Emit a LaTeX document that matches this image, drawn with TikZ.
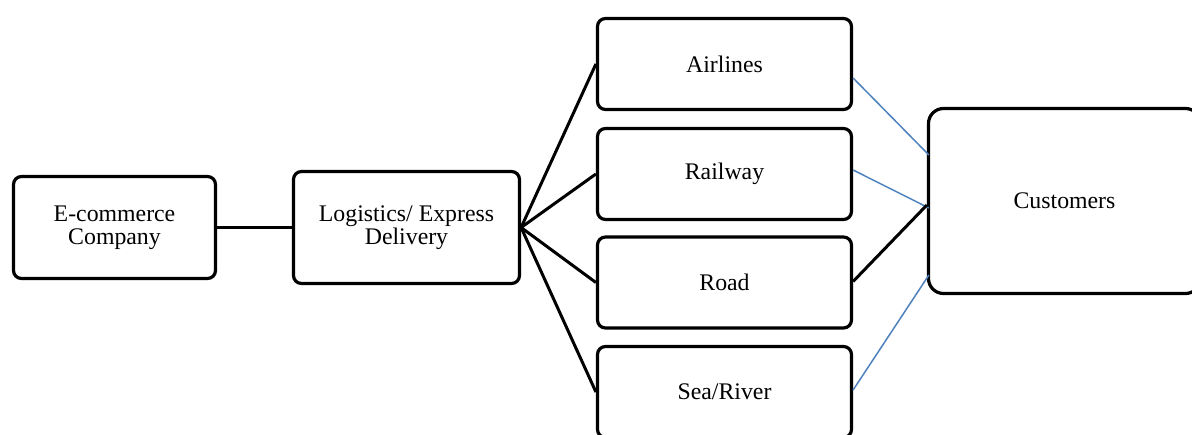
\documentclass[tikz,border=0pt]{standalone}
\usepackage{fontspec}
\setmainfont{Liberation Serif}
\usetikzlibrary{calc}
\definecolor{linkblue}{RGB}{79,129,189}
\begin{document}
\begin{tikzpicture}[x=1pt,y=-1pt,
  box/.style={draw=black,line width=3.2pt,rounded corners=8pt,fill=white,inner sep=0pt,
    align=center,font=\fontsize{23.8}{23}\selectfont},
  modebox/.style={box,minimum width=254pt,minimum height=91pt},
  thick link/.style={draw=black,line width=3pt},
  thin link/.style={draw=linkblue,line width=1.5pt}]
\useasboundingbox (0,0) rectangle (1192,434);
\node[box,minimum width=202pt,minimum height=102pt] (ecom) at (114.5,227.5) {E-commerce\\Company};
\node[box,minimum width=226pt,minimum height=112pt] (log) at (406.5,227.5) {Logistics/ Express\\Delivery};
\node[modebox] (air) at (724.5,64) {Airlines};
\node[modebox] (rail) at (724.5,174) {Railway};
\node[modebox] (road) at (724.5,282.5) {Road};
\node[modebox] (sea) at (724.5,392) {Sea/River};
\node[box,rounded corners=15pt,minimum width=272pt,minimum height=185pt] (cust) at (1064.5,201) {Customers};
\draw[thick link] (ecom.east) -- (log.west);
\foreach \m in {air,rail,road,sea}
  \draw[thick link] (log.east) -- (\m.west);
\draw[thin link] ($(air.east)+(0,14)$) -- ($(cust.west)+(2,-46)$);
\draw[thin link] ($(rail.east)+(0,-4)$) -- ($(cust.west)+(2,7)$);
\draw[thick link] ($(road.east)+(0,-1)$) -- ($(cust.west)+(0,4)$);
\draw[thin link] ($(sea.east)+(0,-2)$) -- ($(cust.west)+(2,74)$);
\end{tikzpicture}
\end{document}
